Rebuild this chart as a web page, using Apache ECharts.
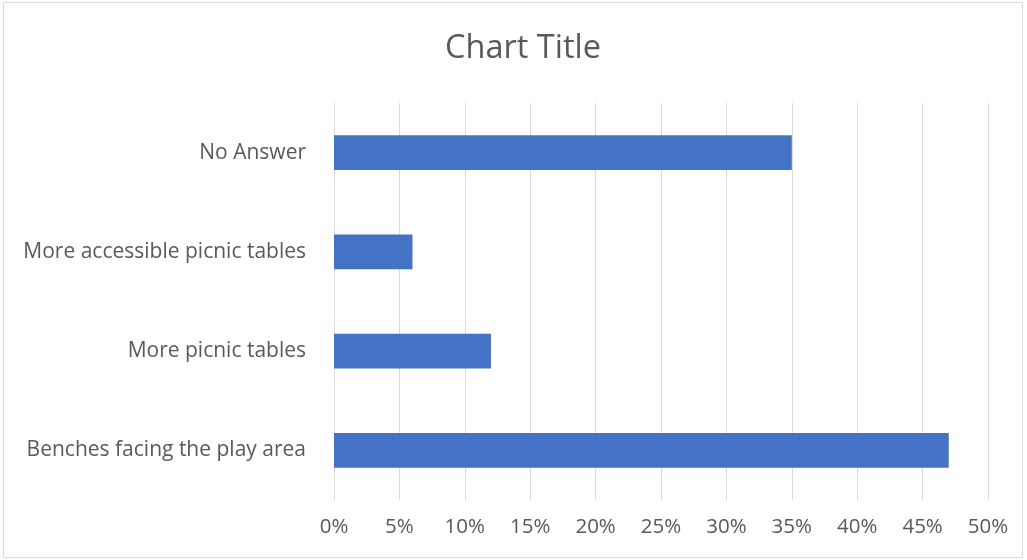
<!DOCTYPE html>
<html>
<head>
<meta charset="utf-8">
<script src="https://cdn.jsdelivr.net/npm/echarts@6/dist/echarts.min.js"></script>
<style>
html,body{margin:0;padding:0;background:#fff;}
#chart{width:1027px;height:560px;}
</style>
</head>
<body>
<div id="chart"></div>
<script>
var categories = ["Benches facing the play area", "More picnic tables", "More accessible picnic tables", "No Answer"];
var values = [47, 12, 6, 35];
var chartTitle = "Chart Title";

var chart = echarts.init(document.getElementById('chart'));
chart.setOption({
  animation: false,
  backgroundColor: '#ffffff',
  title: {
    text: chartTitle,
    left: 440,
    top: 27,
    textStyle: { fontFamily: 'Open Sans', fontSize: 32.5, fontWeight: 'normal', color: '#595959' }
  },
  graphic: [{
    type: 'rect',
    shape: { x: 3.5, y: 2.5, width: 1019, height: 555 },
    style: { fill: 'none', stroke: '#d9d9d9', lineWidth: 1 }
  }],
  grid: { left: 334, right: 39, top: 103, bottom: 60, containLabel: false },
  xAxis: {
    type: 'value',
    min: 0, max: 50, interval: 5,
    axisLine: { show: false },
    axisTick: { show: false },
    splitLine: { lineStyle: { color: '#d9d9d9', width: 1 } },
    axisLabel: {
      formatter: '{value}%',
      margin: 17,
      fontFamily: 'Open Sans', fontSize: 20.5, color: '#595959'
    }
  },
  yAxis: {
    type: 'category',
    data: categories,
    axisLine: { show: false },
    axisTick: { show: false },
    axisLabel: { margin: 28, fontFamily: 'Open Sans', fontSize: 21, color: '#595959' }
  },
  series: [{
    type: 'bar',
    data: values,
    barWidth: '35%',
    itemStyle: { color: '#4472c4' }
  }]
});
</script>
</body>
</html>
